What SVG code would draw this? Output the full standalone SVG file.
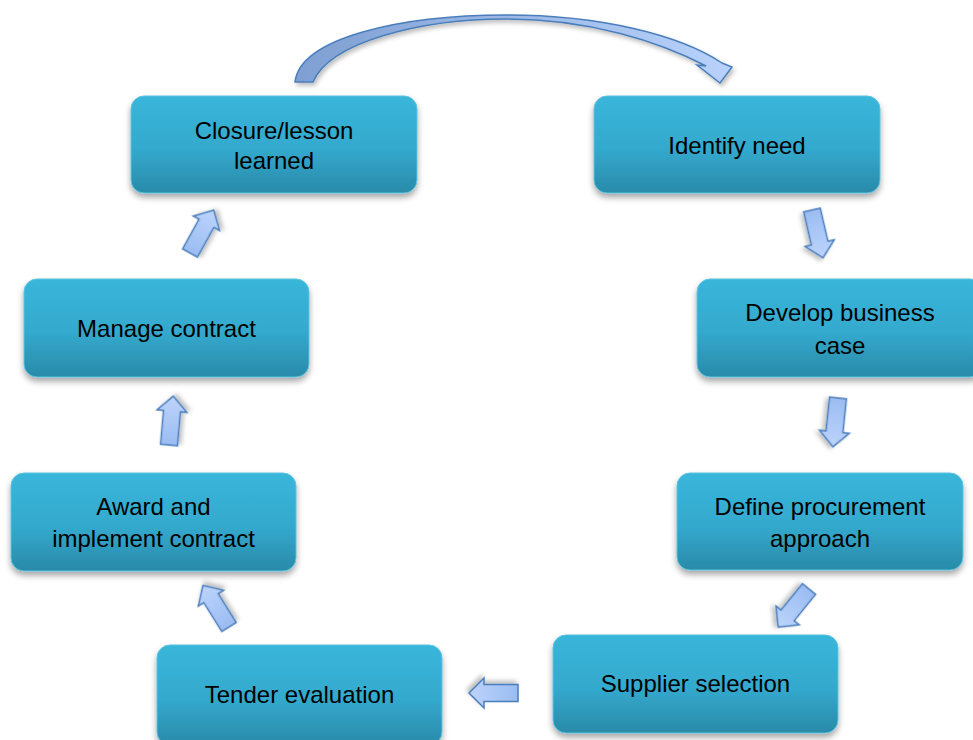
<svg xmlns="http://www.w3.org/2000/svg" width="973" height="740" viewBox="0 0 973 740">
<defs>
<linearGradient id="boxg" x1="0" y1="0" x2="0" y2="1">
<stop offset="0" stop-color="#39b6da"/>
<stop offset="0.55" stop-color="#33a9cd"/>
<stop offset="1" stop-color="#2a8aa9"/>
</linearGradient>
<linearGradient id="arrg" x1="0" y1="0" x2="1" y2="0">
<stop offset="0" stop-color="#9bbcf2"/>
<stop offset="1" stop-color="#bcd4fb"/>
</linearGradient>
<linearGradient id="curveg" x1="0" y1="0" x2="1" y2="0">
<stop offset="0" stop-color="#7f9fd2"/>
<stop offset="1" stop-color="#b8d2fb"/>
</linearGradient>
<filter id="sh" x="-10%" y="-10%" width="120%" height="130%">
<feDropShadow dx="0" dy="4" stdDeviation="3" flood-color="#000" flood-opacity="0.35"/>
</filter>
<filter id="ash" x="-30%" y="-30%" width="160%" height="160%">
<feDropShadow dx="2" dy="3" stdDeviation="2" flood-color="#000" flood-opacity="0.25"/>
</filter>
<polygon id="arr" points="0,-8.5 34,-8.5 34,-15 49,0 34,15 34,8.5 0,8.5"/>
</defs>
<style>
.box{fill:url(#boxg);stroke:#5cc3e0;stroke-width:1;filter:url(#sh)}
.lbl{font-family:"Liberation Sans",Arial,sans-serif;font-size:24px;fill:#000;text-anchor:middle}
.ar{fill:url(#arrg);stroke:#4a7ebb;stroke-width:1.5;stroke-linejoin:miter;filter:url(#ash)}
</style>
<rect width="973" height="740" fill="#fff"/>
<g id="connectors">
<path class="ar" style="fill:url(#curveg)" d="M295,82 C300,38 400,15 507,15 C600,15 680,35 722,63 L732,67 L720,83 L697,65 L706,66 C660,42 590,19 507,19 C420,19 330,42 313,82 Z"/>
<use href="#arr" class="ar" transform="translate(812,210) rotate(77)"/>
<use href="#arr" class="ar" transform="translate(838,398) rotate(96)"/>
<use href="#arr" class="ar" transform="translate(809,589) rotate(129)"/>
<use href="#arr" class="ar" transform="translate(518,693) rotate(180)"/>
<use href="#arr" class="ar" transform="translate(229,627) rotate(238)"/>
<use href="#arr" class="ar" transform="translate(169,445) rotate(275)"/>
<use href="#arr" class="ar" transform="translate(190,253) rotate(-61)"/>
</g>
<g id="closure">
<rect class="box" x="131" y="96" width="286" height="97" rx="13"/>
<text class="lbl" x="274" y="139">Closure/lesson</text>
<text class="lbl" x="274" y="169">learned</text>
</g>
<g id="identify">
<rect class="box" x="594" y="96" width="286" height="97" rx="13"/>
<text class="lbl" x="737" y="154">Identify need</text>
</g>
<g id="develop">
<rect class="box" x="697" y="279" width="286" height="98" rx="13"/>
<text class="lbl" x="840" y="321">Develop business</text>
<text class="lbl" x="840" y="354">case</text>
</g>
<g id="define">
<rect class="box" x="677" y="473" width="286" height="97" rx="13"/>
<text class="lbl" x="820" y="515">Define procurement</text>
<text class="lbl" x="820" y="547">approach</text>
</g>
<g id="supplier">
<rect class="box" x="553" y="635" width="285" height="98" rx="13"/>
<text class="lbl" x="695.5" y="692">Supplier selection</text>
</g>
<g id="tender">
<rect class="box" x="157" y="645" width="285" height="100" rx="13"/>
<text class="lbl" x="299.5" y="703">Tender evaluation</text>
</g>
<g id="award">
<rect class="box" x="11" y="473" width="285" height="98" rx="13"/>
<text class="lbl" x="153.5" y="515">Award and</text>
<text class="lbl" x="153.5" y="547">implement contract</text>
</g>
<g id="manage">
<rect class="box" x="24" y="279" width="285" height="98" rx="13"/>
<text class="lbl" x="166.5" y="337">Manage contract</text>
</g>
</svg>
